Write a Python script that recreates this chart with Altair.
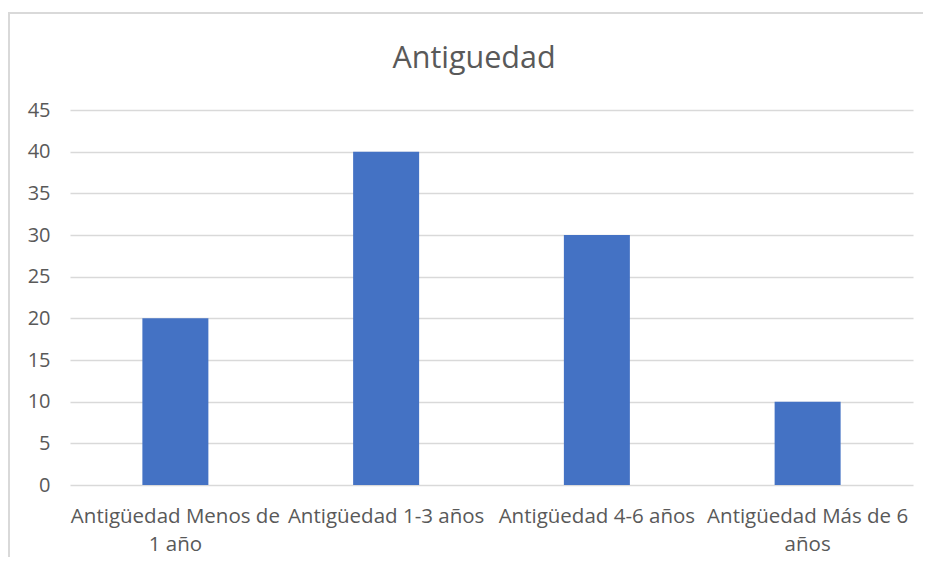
import altair as alt
import pandas as pd

categories = ["Antigüedad Menos de 1 año", "Antigüedad 1-3 años", "Antigüedad 4-6 años", "Antigüedad Más de 6 años"]
label_lines = [["Antigüedad Menos de", "1 año"], ["Antigüedad 1-3 años"], ["Antigüedad 4-6 años"], ["Antigüedad Más de 6", "años"]]
values = [20, 40, 30, 10]
y_ticks = [0, 5, 10, 15, 20, 25, 30, 35, 40, 45]
title_text = "Antiguedad"

df = pd.DataFrame({"cat": categories, "val": values})

FONT = "Open Sans"
GRAY = "#595959"

label_expr = ""
for c, lines in zip(categories, label_lines):
    arr = "[" + ",".join("'" + l + "'" for l in lines) + "]"
    label_expr += f"datum.value == '{c}' ? {arr} : "
label_expr += "datum.label"

W, H = 843, 375

bars = alt.Chart(df).mark_bar(color="#4472C4", size=66).encode(
    x=alt.X("cat:N", sort=categories, title=None,
            scale=alt.Scale(paddingInner=0, paddingOuter=0),
            axis=alt.Axis(labelAngle=0, labelExpr=label_expr, labelFont=FONT, labelFontSize=20.5,
                          labelColor=GRAY, ticks=False, domain=False, labelPadding=21,
                          labelLineHeight=28, labelBaseline="top", labelLimit=400, grid=False)),
    y=alt.Y("val:Q", title=None,
            scale=alt.Scale(domain=[0, 45]),
            axis=alt.Axis(values=y_ticks, labelFont=FONT, labelFontSize=20, labelColor=GRAY,
                          ticks=False, domain=False, labelPadding=20,
                          grid=True, gridColor="#d9d9d9", gridWidth=1.5)),
)

title = alt.Chart(pd.DataFrame({"t": [title_text]})).mark_text(
    font=FONT, fontSize=30.5, color=GRAY, align="center", baseline="middle"
).encode(text="t:N", x=alt.value(404), y=alt.value(-51))

border_top = alt.Chart(pd.DataFrame({"a": [0]})).mark_rule(color="#d9d9d9", strokeWidth=2).encode(
    x=alt.value(-62), x2=alt.value(905), y=alt.value(-97))
border_left = alt.Chart(pd.DataFrame({"a": [0]})).mark_rule(color="#d9d9d9", strokeWidth=2).encode(
    x=alt.value(-61), y=alt.value(-97), y2=alt.value(460))

chart = alt.layer(border_top, border_left, bars, title).properties(
    width=W, height=H,
    background="white",
    autosize=alt.AutoSizeParams(type="none"),
    padding={"left": 62, "top": 102, "right": 10, "bottom": 72},
).configure_view(strokeWidth=0, stroke="transparent")

chart.save("out.html", embed_options={"renderer": "svg", "actions": False})
